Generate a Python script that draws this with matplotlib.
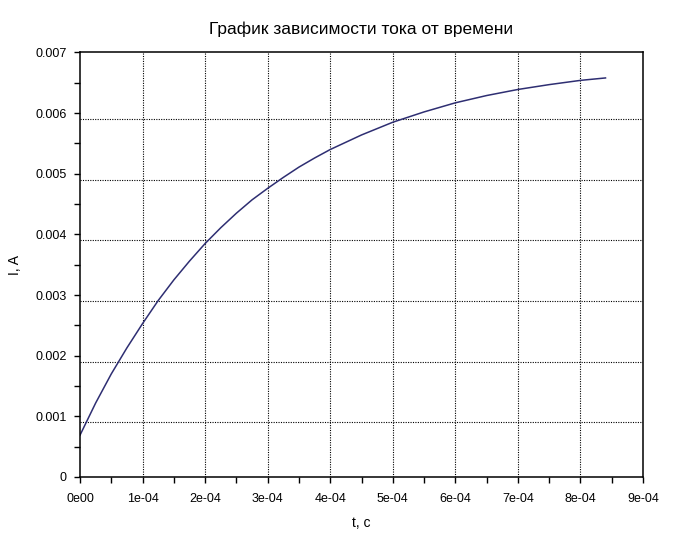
import numpy as np
import matplotlib.pyplot as plt
from matplotlib.transforms import ScaledTranslation
from matplotlib.ticker import MultipleLocator

#%% data
t = np.array([0.0, 0.25, 0.5, 0.75, 1.0, 1.25, 1.5, 1.75, 2.0, 2.25,
              2.5, 2.75, 3.0, 3.25, 3.5, 3.75, 4.0, 4.5, 5.0, 5.5,
              6.0, 6.5, 7.0, 7.5, 8.0, 8.4]) * 1e-4   # [s]
I = np.array([0.00069, 0.00122, 0.00170, 0.00213, 0.00253, 0.00291,
              0.00325, 0.00356, 0.00385, 0.00411, 0.00435, 0.00457,
              0.00476, 0.00494, 0.00511, 0.00526, 0.00540, 0.00564,
              0.00585, 0.00602, 0.00617, 0.00629, 0.00639, 0.00647,
              0.00654, 0.00658])  # [A]

xticks = np.arange(0, 10) * 1e-4
xlabels = ['0e00', '1e-04', '2e-04', '3e-04', '4e-04',
           '5e-04', '6e-04', '7e-04', '8e-04', '9e-04']
yticks = np.arange(0, 8) * 0.001
ylabels = ['0', '0.001', '0.002', '0.003', '0.004', '0.005', '0.006', '0.007']

#%% plot settings
plt.rcParams['font.family'] = ['Liberation Sans', 'DejaVu Sans']

fig = plt.figure(figsize=(6.91, 5.36), dpi=100)
ax = fig.add_axes([0.1158, 0.1101, 0.8148, 0.7920])

ax.plot(t, I, color='#2e2e72', lw=1.1)

ax.set_xlim(0, 9e-4)
ax.set_ylim(0, 0.007)
ax.set_xticks(xticks, xlabels)
ax.set_yticks(yticks, ylabels)
ax.xaxis.set_minor_locator(MultipleLocator(0.5e-4))
ax.yaxis.set_minor_locator(MultipleLocator(0.0005))
ax.tick_params(which='both', direction='out', length=4.5, width=1,
               labelsize=9, top=False, right=False)
ax.tick_params(axis='x', pad=7)
ax.tick_params(axis='y', pad=5)
for sp in ax.spines.values():
    sp.set_linewidth(1.1)

# grid: scilab draws the horizontal lines a few pixels under the ticks
for x in xticks[1:-1]:
    ax.axvline(x, color='k', ls=(0, (1, 1.2)), lw=0.8, zorder=0)
shift = ScaledTranslation(0, -0.06, fig.dpi_scale_trans)
for y in yticks[1:-1]:
    ax.plot([0, 1], [y, y], color='k', ls=(0, (1, 1.2)), lw=0.8, zorder=0,
            transform=ax.get_yaxis_transform() + shift)

ax.set_title('График зависимости тока от времени', fontsize=12.5, pad=13)
ax.set_xlabel('t, c', fontsize=10, labelpad=8)
ax.set_ylabel('I, A', fontsize=10, labelpad=10)

fig.savefig('out.png', dpi=100)
